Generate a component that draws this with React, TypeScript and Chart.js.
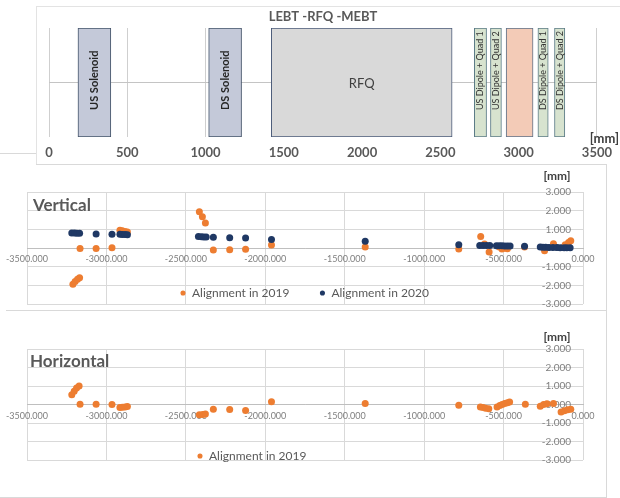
import React, { useEffect, useRef } from 'react';
import { Chart, registerables } from 'chart.js';

Chart.register(...registerables);

const FONT = 'Lato, "Noto Sans", sans-serif';

// ---------- Top panel : LEBT - RFQ - MEBT layout (mm) ----------
const boxNames = ['US Solenoid', 'DS Solenoid', 'RFQ', 'US Dipole + Quad 1', 'US Dipole + Quad 2', '', 'DS Dipole + Quad 1', 'DS Dipole + Quad 2'];
const boxStart = [185, 1020, 1420, 2717, 2820, 2920, 3123, 3229];
const boxEnd = [395, 1230, 2575, 2795, 2890, 3092, 3189, 3295];

// ---------- Vertical alignment (mm) ----------
const vert2019X = [-3211, -3197, -3182, -3169, -3166, -3065, -2965, -2915, -2900, -2883, -2868, -2415, -2396, -2377, -2327, -2224, -2124, -1961, -1371, -782, -644, -620, -591, -527, -510, -493, -476, -368, -242, -186, -112, -91, -77];
const vert2019Y = [-1.94, -1.80, -1.67, -1.60, -0.03, -0.03, 0.02, 0.95, 0.93, 0.89, 0.86, 1.94, 1.67, 1.34, -0.11, -0.09, -0.07, 0.16, 0.05, -0.05, 0.62, 0.21, -0.21, 0.05, -0.05, 0.0, -0.04, 0.05, -0.15, 0.23, 0.18, 0.30, 0.39];
const vert2020X = [-3218, -3201, -3186, -3169, -3065, -2965, -2915, -2900, -2883, -2868, -2421, -2402, -2387, -2372, -2327, -2224, -2124, -1961, -1371, -782, -650, -629, -608, -587, -545, -527, -510, -493, -476, -459, -368, -269, -252, -235, -214, -189, -164, -144, -119, -102, -81];
const vert2020Y = [0.80, 0.80, 0.79, 0.79, 0.75, 0.73, 0.73, 0.72, 0.72, 0.71, 0.61, 0.60, 0.59, 0.59, 0.57, 0.55, 0.54, 0.46, 0.36, 0.18, 0.14, 0.14, 0.14, 0.13, 0.12, 0.12, 0.12, 0.11, 0.11, 0.11, 0.09, 0.05, 0.04, 0.04, 0.03, 0.03, 0.03, 0.02, 0.02, 0.02, 0.02];

// ---------- Horizontal alignment (mm) ----------
const hor2019X = [-3218, -3203, -3188, -3172, -3166, -3065, -2965, -2915, -2900, -2883, -2868, -2415, -2394, -2377, -2327, -2224, -2124, -1961, -1371, -782, -646, -629, -613, -593, -541, -524, -509, -493, -476, -462, -363, -269, -248, -227, -186, -138, -117, -96, -77];
const hor2019Y = [0.53, 0.72, 0.89, 1.00, 0.02, 0.02, 0.00, -0.16, -0.15, -0.13, -0.11, -0.56, -0.54, -0.51, -0.25, -0.27, -0.33, 0.15, 0.05, -0.04, -0.13, -0.16, -0.20, -0.23, -0.13, -0.05, 0.00, 0.05, 0.09, 0.13, 0.02, -0.09, 0.00, 0.04, 0.05, -0.40, -0.34, -0.29, -0.25];

const seriesNames = ['Alignment in 2019', 'Alignment in 2020'];

// ---------- styles ----------
const ORANGE = '#ed7d31';
const NAVY = '#1f3864';
const GRID = '#d9d9d9';
const boxFill = ['#c4c9d9', '#c4c9d9', '#d9d9d9', '#d7e3cf', '#d7e3cf', '#f3cbb7', '#d7e3cf', '#d7e3cf'];
const boxBorder = ['#44546a', '#44546a', '#4a5a78', '#5b7b86', '#5b7b86', '#5d7189', '#5b7b86', '#5b7b86'];
const boxKind = ['sol', 'sol', 'rfq', 'dq', 'dq', 'none', 'dq', 'dq'];
// value on the x scale where the vertical axis labels are anchored (just left of x = 0)
const Y_LABEL_ANCHOR = -75;

type TextItem = { text: string; x: number; y: number; font: string; color: string; align: CanvasTextAlign };

const textPlugin = (id: string, items: TextItem[]) => ({
  id,
  afterDraw(chart: any) {
    const ctx = chart.ctx;
    ctx.save();
    for (const it of items) {
      ctx.font = it.font;
      ctx.fillStyle = it.color;
      ctx.textAlign = it.align;
      ctx.textBaseline = 'middle';
      ctx.fillText(it.text, it.x, it.y);
    }
    ctx.restore();
  },
});

const boxLabelPlugin = {
  id: 'boxLabels',
  afterDraw(chart: any) {
    const ctx = chart.ctx;
    ctx.save();
    chart.data.datasets.forEach((_ds: any, i: number) => {
      const name = boxNames[i];
      const el = chart.getDatasetMeta(i).data[0];
      if (!el || !name) return;
      const p = el.getProps(['x', 'y', 'base', 'height'], true);
      const cx = (p.x + p.base) / 2;
      ctx.textBaseline = 'middle';
      if (boxKind[i] === 'rfq') {
        ctx.font = `13px ${FONT}`;
        ctx.fillStyle = '#404040';
        ctx.textAlign = 'center';
        ctx.fillText(name, cx, p.y + 1.5);
      } else {
        const anchorY = p.y + p.height / 2 - 27;
        ctx.save();
        ctx.translate(cx, anchorY);
        ctx.rotate(-Math.PI / 2);
        ctx.textAlign = 'left';
        if (boxKind[i] === 'sol') {
          ctx.font = `bold 11px ${FONT}`;
          ctx.fillStyle = '#262626';
        } else {
          ctx.font = `9px ${FONT}`;
          ctx.fillStyle = '#333333';
        }
        ctx.fillText(name, 0, 0);
        ctx.restore();
      }
    });
    ctx.restore();
  },
};

const legendMover = (left: number, top: number) => ({
  id: 'legendMover',
  afterLayout(chart: any) {
    const lg = chart.legend;
    if (!lg) return;
    lg.left = left;
    lg.top = top;
    lg.right = chart.width;
    lg.bottom = chart.height;
    lg.width = lg.right - lg.left;
    lg.height = lg.bottom - lg.top;
  },
});

const fmt3 = (v: any) => Number(v).toFixed(3);
const LEGEND_PAD = 30;

function topConfig(): any {
  return {
    type: 'bar',
    data: {
      labels: ['beamline'],
      datasets: boxNames.map((name, i) => ({
        label: name || 'box',
        data: [[boxStart[i], boxEnd[i]]],
        backgroundColor: boxFill[i],
        borderColor: boxBorder[i],
        borderWidth: 1,
        borderSkipped: false,
        grouped: false,
        barPercentage: 1,
        categoryPercentage: 1,
      })),
    },
    options: {
      indexAxis: 'y',
      responsive: false,
      animation: false,
      layout: { padding: { left: 49, right: 20, top: 0, bottom: 0 } },
      scales: {
        x: {
          type: 'linear',
          min: 0,
          max: 3500,
          position: 'bottom',
          z: 1,
          ticks: {
            stepSize: 500,
            padding: 8,
            color: '#595959',
            font: { family: FONT, size: 13, weight: 'bold' },
            callback: (v: any) => String(v),
          },
          grid: { color: '#cfcfcf', drawTicks: false },
          border: { display: false },
          afterFit: (s: any) => { s.height = 33; },
        },
        y: {
          type: 'category',
          z: 1,
          ticks: { display: false },
          grid: { offset: false, color: '#c4c4c4', drawTicks: false },
          border: { display: false },
          afterFit: (s: any) => { s.width = 0; },
        },
      },
      plugins: {
        legend: { display: false },
        tooltip: { enabled: false },
        title: {
          display: true,
          text: 'LEBT -RFQ -MEBT',
          fullSize: false,
          color: '#595959',
          font: { family: FONT, size: 13, weight: 'bold' },
          padding: { top: 9, bottom: 3.4 },
        },
      },
    },
    plugins: [
      boxLabelPlugin,
      textPlugin('topText', [{ text: '[mm]', x: 619, y: 139, font: `bold 13px ${FONT}`, color: '#404040', align: 'right' }]),
    ],
  };
}

function pts(xs: number[], ys: number[]) {
  return xs.map((x, i) => ({ x, y: ys[i] }));
}

function alignConfig(o: {
  datasets: any[];
  padTop: number;
  padBottom: number;
  title: string;
  titleX: number;
  titleY: number;
  mmY: number;
  legendLeft: number;
  legendTop: number;
}): any {
  return {
    type: 'scatter',
    data: { datasets: o.datasets },
    options: {
      responsive: false,
      animation: false,
      layout: { padding: { left: 25, right: 37, top: o.padTop, bottom: o.padBottom } },
      scales: {
        x: {
          type: 'linear',
          min: -3500,
          max: 0,
          position: { y: 0 },
          ticks: {
            stepSize: 500,
            autoSkip: false,
            maxRotation: 0,
            padding: 6,
            color: '#7f7f7f',
            font: { family: FONT, size: 9 },
            callback: fmt3,
          },
          grid: { color: GRID, drawTicks: false },
          border: { display: true, color: '#bfbfbf' },
        },
        y: {
          type: 'linear',
          min: -3,
          max: 3,
          position: { x: Y_LABEL_ANCHOR },
          ticks: {
            stepSize: 1,
            padding: 0,
            color: '#7f7f7f',
            font: { family: FONT, size: 10 },
            callback: fmt3,
          },
          grid: { color: GRID, drawTicks: false },
          border: { display: false },
        },
      },
      plugins: {
        tooltip: { enabled: false },
        title: { display: false },
        legend: {
          display: true,
          position: 'bottom',
          align: 'start',
          maxHeight: 1,
          labels: {
            usePointStyle: true,
            pointStyle: 'circle',
            boxWidth: 6,
            boxHeight: 3.6,
            padding: LEGEND_PAD,
            color: '#595959',
            font: { family: FONT, size: 12 },
            sort: (a: any, b: any) => a.datasetIndex - b.datasetIndex,
          },
        },
      },
    },
    plugins: [
      legendMover(o.legendLeft - LEGEND_PAD, o.legendTop - LEGEND_PAD),
      textPlugin('panelText', [
        { text: o.title, x: o.titleX, y: o.titleY, font: `bold 17px ${FONT}`, color: '#595959', align: 'left' },
        { text: '[mm]', x: 557, y: o.mmY, font: `bold 12px ${FONT}`, color: '#404040', align: 'center' },
      ]),
    ],
  };
}

function verticalConfig(): any {
  return alignConfig({
    datasets: [
      { label: seriesNames[0], data: pts(vert2019X, vert2019Y), backgroundColor: ORANGE, borderColor: ORANGE, borderWidth: 0, pointRadius: 3.5, order: 1 },
      { label: seriesNames[1], data: pts(vert2020X, vert2020Y), backgroundColor: NAVY, borderColor: NAVY, borderWidth: 0, pointRadius: 3.5, order: 0 },
    ],
    padTop: 32,
    padBottom: 7,
    title: 'Vertical',
    titleX: 33,
    titleY: 46,
    mmY: 16,
    legendLeft: 180,
    legendTop: 127,
  });
}

function horizontalConfig(): any {
  return alignConfig({
    datasets: [
      { label: seriesNames[0], data: pts(hor2019X, hor2019Y), backgroundColor: ORANGE, borderColor: ORANGE, borderWidth: 0, pointRadius: 3.5 },
    ],
    padTop: 34,
    padBottom: 9,
    title: 'Horizontal',
    titleX: 30,
    titleY: 47,
    mmY: 22,
    legendLeft: 197,
    legendTop: 135,
  });
}

function ChartCanvas({ top, height, config }: { top: number; height: number; config: () => any }) {
  const ref = useRef<HTMLCanvasElement>(null);
  useEffect(() => {
    if (!ref.current) return;
    const chart = new Chart(ref.current, config());
    return () => chart.destroy();
  }, []);
  return (
    <canvas
      ref={ref}
      width={620}
      height={height}
      style={{ position: 'absolute', left: 0, top, width: 620, height, display: 'block' }}
    />
  );
}

function Rule({ x, y, w, h, c = '#d9d9d9' }: { x: number; y: number; w: number; h: number; c?: string }) {
  return <div style={{ position: 'absolute', left: x, top: y, width: w, height: h, background: c }} />;
}

export default function App() {
  return (
    <div
      style={{
        position: 'fixed',
        left: 0,
        top: 0,
        width: 620,
        height: 498,
        background: '#ffffff',
        overflow: 'hidden',
        fontFamily: FONT,
      }}
    >
      <Rule x={36} y={6} w={584} h={1} c="#e3e3e3" />
      <Rule x={36} y={6} w={1} h={158} c="#e3e3e3" />
      <Rule x={36} y={164} w={570} h={1} />
      <Rule x={0} y={153} w={36} h={1} />
      <Rule x={606} y={164} w={1} h={334} />
      <Rule x={6} y={310} w={600} h={1} />
      <Rule x={0} y={497} w={606} h={1} />
      <ChartCanvas top={0} height={170} config={topConfig} />
      <ChartCanvas top={160} height={152} config={verticalConfig} />
      <ChartCanvas top={315} height={155} config={horizontalConfig} />
    </div>
  );
}
